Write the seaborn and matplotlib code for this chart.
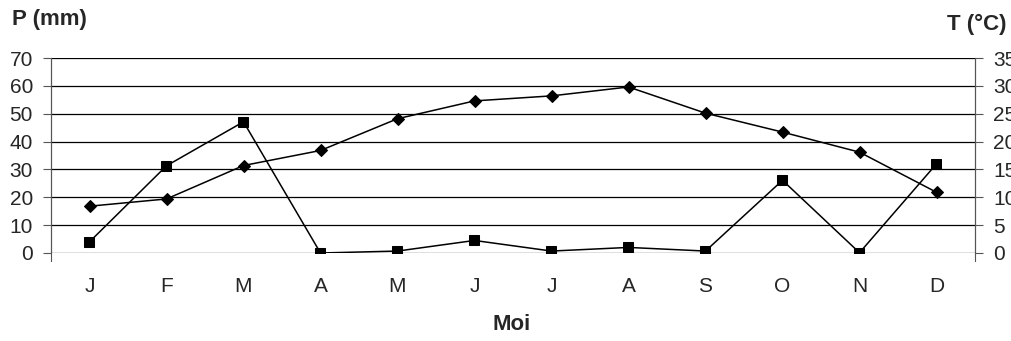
from matplotlib import pyplot as plt
import pandas as pd
import seaborn as sns
import numpy as np

# donnees
mois = ["J", "F", "M", "A", "M", "J", "J", "A", "S", "O", "N", "D"]
precip = [4, 31.3, 47.1, 0, 0.7, 4.5, 0.7, 2.0, 0.7, 26.1, 0.1, 32]
temp = [8.4, 9.7, 15.7, 18.4, 24.1, 27.3, 28.2, 29.8, 25.1, 21.7, 18.1, 10.9]

sns.set_style("white")
plt.rcParams["font.family"] = ["Liberation Sans", "DejaVu Sans"]

df = pd.DataFrame({"x": np.arange(len(mois)), "P": precip, "T": temp})

fig = plt.figure(figsize=(10.12, 3.41), dpi=100)
ax = fig.add_axes([51 / 1012, 88 / 341, 924 / 1012, 195 / 341])
ax2 = ax.twinx()

sns.lineplot(data=df, x="x", y="P", ax=ax, color="black", marker="s",
             markersize=7.5, linewidth=1.1, markeredgecolor="black")
sns.lineplot(data=df, x="x", y="T", ax=ax2, color="black", marker="D",
             markersize=6.5, linewidth=1.1, markeredgecolor="black")

ax.set_xlim(-0.5, 11.5)
ax.set_ylim(0, 70)
ax2.set_ylim(0, 35)
ax.set_yticks(range(0, 71, 10))
ax2.set_yticks(range(0, 36, 5))
ax.set_xticks(range(12))
ax.set_xticklabels(mois)
ax.set_xticks(np.arange(-0.5, 12, 1), minor=True)

for y in range(0, 71, 10):
    ax.axhline(y, color="black", linewidth=0.9, zorder=0)

ax.tick_params(axis="x", which="major", length=0, pad=17, labelsize=15)
ax.tick_params(axis="x", which="minor", length=10, direction="inout",
               color="#555555", width=1)
ax.tick_params(axis="y", length=6, direction="out", color="#555555",
               labelsize=15, pad=7, left=True)
ax2.tick_params(axis="y", length=6, direction="out", color="#555555",
                labelsize=15, pad=7, right=True)

for a in (ax, ax2):
    a.set_xlabel("")
    a.set_ylabel("")
    a.spines["top"].set_visible(False)
    a.spines["bottom"].set_visible(False)
    a.spines["left"].set_color("#555555")
    a.spines["right"].set_color("#555555")
ax.spines["left"].set_bounds(-2.8, 70)
ax2.spines["right"].set_bounds(-1.4, 35)

fig.text(12 / 1012, 1 - 20 / 341, "P (mm)", fontsize=16, fontweight="bold",
         ha="left", va="center")
fig.text(1007 / 1012, 1 - 24 / 341, "T (°C)", fontsize=16, fontweight="bold",
         ha="right", va="center")
fig.text(512 / 1012, 1 - 325 / 341, "Moi", fontsize=16, fontweight="bold",
         ha="center", va="center")

plt.savefig("out.png", dpi=100)
